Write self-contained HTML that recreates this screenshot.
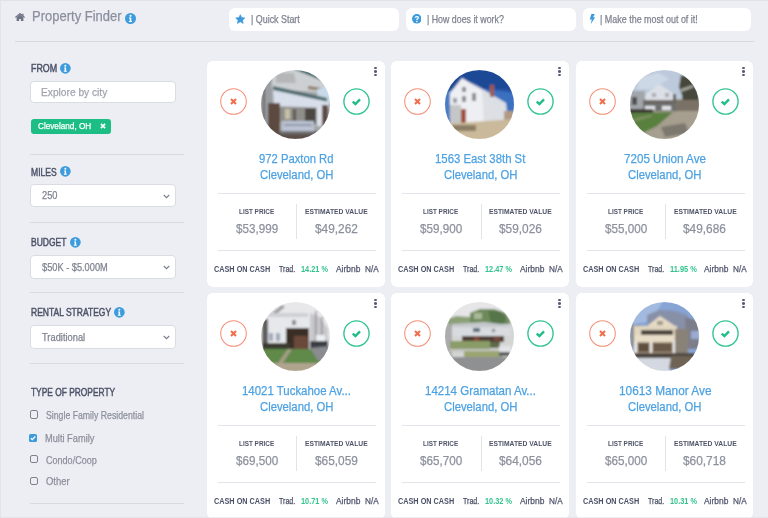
<!DOCTYPE html>
<html><head><meta charset="utf-8"><title>Property Finder</title>
<style>
*{box-sizing:border-box;margin:0;padding:0}
html,body{width:768px;height:518px;overflow:hidden}
body{background:#EDEEF3;font-family:"Liberation Sans",Arial,sans-serif;position:relative}
.a,.t{position:absolute}
.t{white-space:nowrap;line-height:1;transform-origin:0 0;-webkit-text-stroke:0.25px currentColor}
.btn{background:#fff;border-radius:6px;height:23.4px;top:7.9px}
.inp{background:#fff;border:1px solid #DADCE4;border-radius:4px}
.sdiv{left:30.2px;width:153.5px;height:1px;background:#D8DAE2}
.cb{left:29.5px;width:8.5px;height:8.5px;border:1.3px solid #7E828F;border-radius:2px}
.wrap{position:absolute;left:0;top:0;width:768px;height:518px;filter:blur(0.4px)}
.card{background:#fff;border-radius:5px;height:226px;box-shadow:0 0 0.6px rgba(160,165,185,0.5)}
</style></head>
<body>
<div class="wrap">
<div class="a" style="left:0;top:0;width:768px;height:1px;background:#E1E2E7"></div>
<div class="a" style="left:0;top:0;width:1px;height:518px;background:#E3E4E9"></div>
<svg class="a" style="left:15px;top:13px" width="10" height="8.2" viewBox="0 0 10 8.2"><path d="M5 1.6 L1.6 4.4 L1.6 8.2 L4.1 8.2 L4.1 5.9 L5.9 5.9 L5.9 8.2 L8.4 8.2 L8.4 4.4 Z" fill="#6F7486"/><path d="M0.4 4.6 L5 0.7 L9.6 4.6" stroke="#6F7486" stroke-width="1.3" fill="none"/><rect x="7.1" y="0.8" width="1.4" height="2.2" fill="#6F7486"/></svg>
<div class="t" style="left:32.00px;top:9px;font-size:14.2px;color:#8B8F9E;transform:scaleX(0.9165);">Property Finder</div>
<svg class="a" style="left:124.70px;top:12.60px" width="11" height="11" viewBox="0 0 10 10"><circle cx="5" cy="5" r="5" fill="#3D9CDD"/><circle cx="5" cy="2.6" r="0.95" fill="#fff"/><path d="M3.7 4.1 H5.7 V7.3 H6.4 V8.1 H3.6 V7.3 H4.3 V4.9 H3.7 Z" fill="#fff"/></svg>
<div class="a btn" style="left:229px;width:170px"></div>
<div class="a btn" style="left:406px;width:170px"></div>
<div class="a btn" style="left:582.5px;width:168.5px"></div>
<svg class="a" style="left:234.9px;top:13.5px" width="10.6" height="10.6" viewBox="0 0 24 24"><path d="M12 1.5 L15.1 8.2 L22.4 9 L17 14 L18.5 21.3 L12 17.6 L5.5 21.3 L7 14 L1.6 9 L8.9 8.2 Z" fill="#3C9BDC" stroke="#3C9BDC" stroke-width="1.5" stroke-linejoin="round"/></svg>
<div class="t" style="left:250.60px;top:14px;font-size:10.5px;color:#7E828F;transform:scaleX(0.8477);">| Quick Start</div>
<svg class="a" style="left:411.9px;top:14.1px" width="9.6" height="9.6" viewBox="0 0 10 10"><circle cx="5" cy="5" r="5" fill="#3C9BDC"/><path d="M3.4 3.9 C3.4 2.2 6.6 2.2 6.6 3.8 C6.6 5 5 5 5 6.2" stroke="#fff" stroke-width="1.3" fill="none"/><circle cx="5" cy="7.8" r="0.8" fill="#fff"/></svg>
<div class="t" style="left:426.80px;top:14px;font-size:10.5px;color:#7E828F;transform:scaleX(0.8400);">| How does it work?</div>
<svg class="a" style="left:588.6px;top:14.0px" width="6.4" height="10.2" viewBox="0 0 6 10"><path d="M2.2 0 L5.6 0 L3.9 3.3 L5.8 3.3 L1.6 10 L2.6 5.4 L0.5 5.4 Z" fill="#3C9BDC"/></svg>
<div class="t" style="left:600.20px;top:14px;font-size:10.5px;color:#7E828F;transform:scaleX(0.8520);">| Make the most out of it!</div>
<div class="a" style="left:15px;top:40.5px;width:739px;height:1.3px;background:#D5D7E1"></div>
<div class="t" style="left:31.00px;top:64px;font-size:10.2px;-webkit-text-stroke:0.45px currentColor;color:#4C5268;transform:scaleX(0.8722);">FROM</div>
<svg class="a" style="left:60.45px;top:63.15px" width="10.7" height="10.7" viewBox="0 0 10 10"><circle cx="5" cy="5" r="5" fill="#3D9CDD"/><circle cx="5" cy="2.6" r="0.95" fill="#fff"/><path d="M3.7 4.1 H5.7 V7.3 H6.4 V8.1 H3.6 V7.3 H4.3 V4.9 H3.7 Z" fill="#fff"/></svg>
<div class="a inp" style="left:30.2px;top:81px;width:146.3px;height:22.3px"></div>
<div class="t" style="left:41.10px;top:86px;font-size:11.6px;color:#A0A3AE;transform:scaleX(0.8790);">Explore by city</div>
<div class="a" style="left:31.4px;top:119.2px;width:79.7px;height:15.2px;background:#1DBE85;border-radius:3px"></div>
<div class="t" style="left:38.10px;top:122px;font-size:9.0px;color:#FFFFFF;transform:scaleX(0.9091);">Cleveland, OH</div>
<svg class="a" style="left:99.6px;top:123.1px" width="6" height="6" viewBox="0 0 6 6"><path d="M0.9 0.9 L5.1 5.1 M5.1 0.9 L0.9 5.1" stroke="#fff" stroke-width="1.7"/></svg>
<div class="a sdiv" style="top:154px"></div>
<div class="t" style="left:31.00px;top:168px;font-size:10.2px;-webkit-text-stroke:0.45px currentColor;color:#4C5268;transform:scaleX(0.8399);">MILES</div>
<svg class="a" style="left:59.85px;top:166.45px" width="10.7" height="10.7" viewBox="0 0 10 10"><circle cx="5" cy="5" r="5" fill="#3D9CDD"/><circle cx="5" cy="2.6" r="0.95" fill="#fff"/><path d="M3.7 4.1 H5.7 V7.3 H6.4 V8.1 H3.6 V7.3 H4.3 V4.9 H3.7 Z" fill="#fff"/></svg>
<div class="a inp" style="left:30.2px;top:183.6px;width:146.2px;height:23.8px"></div>
<div class="t" style="left:42.00px;top:190px;font-size:10.5px;color:#7F8390;transform:scaleX(0.8796);">250</div>
<svg class="a" style="left:163.30px;top:193.70px" width="7" height="5" viewBox="0 0 7 5"><path d="M0.8 1 L3.5 3.6 L6.2 1" stroke="#7C8090" stroke-width="1.25" fill="none"/></svg>
<div class="a sdiv" style="top:222px"></div>
<div class="t" style="left:31.00px;top:238px;font-size:10.2px;-webkit-text-stroke:0.45px currentColor;color:#4C5268;transform:scaleX(0.8351);">BUDGET</div>
<svg class="a" style="left:70.25px;top:236.85px" width="10.7" height="10.7" viewBox="0 0 10 10"><circle cx="5" cy="5" r="5" fill="#3D9CDD"/><circle cx="5" cy="2.6" r="0.95" fill="#fff"/><path d="M3.7 4.1 H5.7 V7.3 H6.4 V8.1 H3.6 V7.3 H4.3 V4.9 H3.7 Z" fill="#fff"/></svg>
<div class="a inp" style="left:30.2px;top:254.6px;width:146.3px;height:24px"></div>
<div class="t" style="left:41.70px;top:262px;font-size:10.5px;color:#7F8390;transform:scaleX(0.8794);">$50K - $5.000M</div>
<svg class="a" style="left:163.30px;top:264.50px" width="7" height="5" viewBox="0 0 7 5"><path d="M0.8 1 L3.5 3.6 L6.2 1" stroke="#7C8090" stroke-width="1.25" fill="none"/></svg>
<div class="a sdiv" style="top:292px"></div>
<div class="t" style="left:31.00px;top:308px;font-size:10.2px;-webkit-text-stroke:0.45px currentColor;color:#4C5268;transform:scaleX(0.8340);">RENTAL STRATEGY</div>
<svg class="a" style="left:114.45px;top:307.25px" width="10.7" height="10.7" viewBox="0 0 10 10"><circle cx="5" cy="5" r="5" fill="#3D9CDD"/><circle cx="5" cy="2.6" r="0.95" fill="#fff"/><path d="M3.7 4.1 H5.7 V7.3 H6.4 V8.1 H3.6 V7.3 H4.3 V4.9 H3.7 Z" fill="#fff"/></svg>
<div class="a inp" style="left:30.2px;top:325px;width:146.3px;height:23.7px"></div>
<div class="t" style="left:41.70px;top:332px;font-size:10.5px;color:#7F8390;transform:scaleX(0.8881);">Traditional</div>
<svg class="a" style="left:163.30px;top:334.80px" width="7" height="5" viewBox="0 0 7 5"><path d="M0.8 1 L3.5 3.6 L6.2 1" stroke="#7C8090" stroke-width="1.25" fill="none"/></svg>
<div class="a sdiv" style="top:363px"></div>
<div class="t" style="left:31.00px;top:388px;font-size:10.2px;-webkit-text-stroke:0.45px currentColor;color:#4C5268;transform:scaleX(0.8222);">TYPE OF PROPERTY</div>
<div class="a cb" style="top:410.40px"></div>
<div class="t" style="left:46.00px;top:410px;font-size:10.6px;color:#8C909B;transform:scaleX(0.8234);">Single Family Residential</div>
<svg class="a" style="left:29.1px;top:433.70px" width="8" height="8" viewBox="0 0 8 8"><rect x="0" y="0" width="8" height="8" rx="1.6" fill="#3C9BDC"/><path d="M1.8 4.2 L3.3 5.6 L6.3 2.5" stroke="#fff" stroke-width="1.3" fill="none"/></svg>
<div class="t" style="left:45.00px;top:433px;font-size:10.6px;color:#8C909B;transform:scaleX(0.8740);">Multi Family</div>
<div class="a cb" style="top:454.90px"></div>
<div class="t" style="left:46.30px;top:455px;font-size:10.6px;color:#8C909B;transform:scaleX(0.8535);">Condo/Coop</div>
<div class="a cb" style="top:476.70px"></div>
<div class="t" style="left:46.30px;top:476px;font-size:10.6px;color:#8C909B;transform:scaleX(0.8943);">Other</div>
<div class="a sdiv" style="top:503px"></div>
<div class="a card" style="left:207.0px;top:61.0px;width:177.8px"></div>
<svg class="a" style="left:220.10px;top:88.00px" width="27" height="27" viewBox="0 0 27 27"><circle cx="13.5" cy="13.5" r="12.8" fill="none" stroke="#F5917A" stroke-width="1.05"/><path d="M11 11 L16 16 M16 11 L11 16" stroke="#F26B4A" stroke-width="2.0"/></svg>
<svg class="a" style="left:343.20px;top:88.00px" width="27" height="27" viewBox="0 0 27 27"><circle cx="13.5" cy="13.5" r="12.6" fill="none" stroke="#34C596" stroke-width="1.4"/><path d="M9.7 13.6 L12.4 16 L17 11.4" stroke="#22BE88" stroke-width="2.4" fill="none"/></svg>
<div class="a" style="left:374.00px;top:66.60px;width:2.8px;height:2.6px;border-radius:50%;background:#5A5F75"></div>
<div class="a" style="left:374.00px;top:70.10px;width:2.8px;height:2.6px;border-radius:50%;background:#5A5F75"></div>
<div class="a" style="left:374.00px;top:73.60px;width:2.8px;height:2.6px;border-radius:50%;background:#5A5F75"></div>
<svg class="a" style="left:259.90px;top:68.90px" width="71" height="71" viewBox="0 0 71 71"><defs><clipPath id="c0"><circle cx="35.5" cy="35.5" r="34.6"/></clipPath><filter id="f0" x="-10%" y="-10%" width="120%" height="120%"><feGaussianBlur stdDeviation="0.9"/></filter></defs><g clip-path="url(#c0)"><g filter="url(#f0)"><rect width="71" height="71" fill="#A4A6A8"/><rect x="0" y="0" width="71" height="14" fill="#C8CCD0"/><polygon points="12,0 71,0 71,24 12,20" fill="#CDD0D3"/><polygon points="16,4 34,4 36,14 16,14" fill="#B4B6B8"/><polygon points="33,0 47,0 66,8 63,12" fill="#4E6C70"/><polygon points="48,17 62,19 62,22 48,20" fill="#8A7A62"/><polygon points="57,20 71,17 71,34 58,33" fill="#C8DAEA"/><polygon points="13,17 67,29 67,33 13,21" fill="#4A686C"/><polygon points="13,21 69,33 69,39 14,37" fill="#D8DFEA"/><rect x="0" y="10" width="12" height="60" fill="#9A9EA2"/><rect x="3" y="14" width="2" height="44" fill="#6A625C"/><rect x="8" y="34" width="12" height="34" fill="#5C4A40"/><rect x="20" y="38" width="25" height="15" fill="#8E8E8A"/><rect x="25" y="40" width="5" height="10" fill="#C8C0A8"/><rect x="33" y="40" width="3" height="13" fill="#5E5852"/><rect x="45" y="39" width="11" height="16" fill="#4C4642"/><rect x="57" y="38" width="5" height="19" fill="#DDE1E9"/><rect x="62" y="36" width="6" height="22" fill="#5E4C44"/><rect x="22" y="52" width="32" height="10" fill="#BCC4D4"/><rect x="24" y="55" width="28" height="2" fill="#9098A8"/><rect x="0" y="62" width="71" height="9" fill="#5C5048"/><rect x="20" y="62" width="35" height="3" fill="#707070"/></g></g></svg>
<div class="t" style="left:258.95px;top:152px;font-size:13.1px;color:#4DA2E2;transform:scaleX(0.8597);">972 Paxton Rd</div>
<div class="t" style="left:259.50px;top:168px;font-size:13.1px;color:#4DA2E2;transform:scaleX(0.8617);">Cleveland, OH</div>
<div class="a" style="left:217.50px;top:193.00px;width:158px;height:1px;background:#E2E4EA"></div>
<div class="t" style="left:238.90px;top:208px;font-size:7.7px;font-weight:bold;-webkit-text-stroke:0;color:#4F5468;transform:scaleX(0.8312);">LIST PRICE</div>
<div class="t" style="left:305.00px;top:208px;font-size:7.7px;font-weight:bold;-webkit-text-stroke:0;color:#4F5468;transform:scaleX(0.8772);">ESTIMATED VALUE</div>
<div class="t" style="left:235.90px;top:223px;font-size:12.4px;color:#8D919D;transform:scaleX(0.9414);">$53,999</div>
<div class="t" style="left:314.85px;top:223px;font-size:12.4px;color:#8D919D;transform:scaleX(0.9570);">$49,262</div>
<div class="a" style="left:296.30px;top:203.60px;width:1px;height:35.6px;background:#E2E4EA"></div>
<div class="a" style="left:217.50px;top:250.00px;width:158px;height:1px;background:#E2E4EA"></div>
<div class="t" style="left:214.10px;top:265px;font-size:8.7px;font-weight:bold;-webkit-text-stroke:0;color:#4B5066;transform:scaleX(0.8380);">CASH ON CASH</div>
<div class="t" style="left:279.10px;top:265px;font-size:8.7px;color:#4B5066;transform:scaleX(0.8105);">Trad.</div>
<div class="t" style="left:301.00px;top:265px;font-size:8.4px;font-weight:bold;-webkit-text-stroke:0;color:#32C38F;transform:scaleX(0.8758);">14.21 %</div>
<div class="t" style="left:335.80px;top:265px;font-size:8.7px;color:#50556C;transform:scaleX(0.9704);">Airbnb</div>
<div class="t" style="left:364.90px;top:265px;font-size:8.7px;color:#50556C;transform:scaleX(0.9444);">N/A</div>
<div class="a card" style="left:391.3px;top:61.0px;width:177.6px"></div>
<svg class="a" style="left:404.40px;top:88.00px" width="27" height="27" viewBox="0 0 27 27"><circle cx="13.5" cy="13.5" r="12.8" fill="none" stroke="#F5917A" stroke-width="1.05"/><path d="M11 11 L16 16 M16 11 L11 16" stroke="#F26B4A" stroke-width="2.0"/></svg>
<svg class="a" style="left:527.30px;top:88.00px" width="27" height="27" viewBox="0 0 27 27"><circle cx="13.5" cy="13.5" r="12.6" fill="none" stroke="#34C596" stroke-width="1.4"/><path d="M9.7 13.6 L12.4 16 L17 11.4" stroke="#22BE88" stroke-width="2.4" fill="none"/></svg>
<div class="a" style="left:558.10px;top:66.60px;width:2.8px;height:2.6px;border-radius:50%;background:#5A5F75"></div>
<div class="a" style="left:558.10px;top:70.10px;width:2.8px;height:2.6px;border-radius:50%;background:#5A5F75"></div>
<div class="a" style="left:558.10px;top:73.60px;width:2.8px;height:2.6px;border-radius:50%;background:#5A5F75"></div>
<svg class="a" style="left:444.10px;top:68.90px" width="71" height="71" viewBox="0 0 71 71"><defs><clipPath id="c1"><circle cx="35.5" cy="35.5" r="34.6"/></clipPath><filter id="f1" x="-10%" y="-10%" width="120%" height="120%"><feGaussianBlur stdDeviation="0.9"/></filter></defs><g clip-path="url(#c1)"><g filter="url(#f1)"><rect width="71" height="71" fill="#2A55A6"/><rect x="0" y="0" width="71" height="20" fill="#1E4896"/><polygon points="40,20 71,24 71,50 60,50" fill="#3A70C0"/><rect x="0" y="22" width="8" height="28" fill="#4A7CC4"/><polygon points="6,24 18,9 40,22 40,57 6,55" fill="#EEEFF2"/><polygon points="38,21 25,12 62,34 64,52 40,57" fill="#DCDFE4"/><rect x="46" y="16" width="4" height="12" fill="#A05A3C"/><rect x="18" y="18" width="4" height="5" fill="#8A8E94"/><rect x="18" y="27" width="4" height="6" fill="#8A8E94"/><rect x="28" y="24" width="4" height="8" fill="#8A8E94"/><rect x="9" y="29" width="4" height="5" fill="#9A9EA4"/><rect x="6" y="36" width="11" height="19" fill="#C4C6C8"/><rect x="17" y="40" width="5" height="16" fill="#A0503A"/><rect x="60" y="42" width="11" height="13" fill="#B09A84"/><polygon points="0,55 71,50 71,71 0,71" fill="#CAB99A"/><rect x="8" y="56" width="24" height="6" fill="#8C7E66"/></g></g></svg>
<div class="t" style="left:435.20px;top:152px;font-size:13.1px;color:#4DA2E2;transform:scaleX(0.8680);">1563 East 38th St</div>
<div class="t" style="left:443.70px;top:168px;font-size:13.1px;color:#4DA2E2;transform:scaleX(0.8617);">Cleveland, OH</div>
<div class="a" style="left:401.80px;top:193.00px;width:158px;height:1px;background:#E2E4EA"></div>
<div class="t" style="left:423.14px;top:208px;font-size:7.7px;font-weight:bold;-webkit-text-stroke:0;color:#4F5468;transform:scaleX(0.8312);">LIST PRICE</div>
<div class="t" style="left:489.15px;top:208px;font-size:7.7px;font-weight:bold;-webkit-text-stroke:0;color:#4F5468;transform:scaleX(0.8772);">ESTIMATED VALUE</div>
<div class="t" style="left:420.14px;top:223px;font-size:12.4px;color:#8D919D;transform:scaleX(0.9414);">$59,900</div>
<div class="t" style="left:499.00px;top:223px;font-size:12.4px;color:#8D919D;transform:scaleX(0.9570);">$59,026</div>
<div class="a" style="left:480.50px;top:203.60px;width:1px;height:35.6px;background:#E2E4EA"></div>
<div class="a" style="left:401.79px;top:250.00px;width:158px;height:1px;background:#E2E4EA"></div>
<div class="t" style="left:398.39px;top:265px;font-size:8.7px;font-weight:bold;-webkit-text-stroke:0;color:#4B5066;transform:scaleX(0.8380);">CASH ON CASH</div>
<div class="t" style="left:463.32px;top:265px;font-size:8.7px;color:#4B5066;transform:scaleX(0.8105);">Trad.</div>
<div class="t" style="left:485.19px;top:265px;font-size:8.4px;font-weight:bold;-webkit-text-stroke:0;color:#32C38F;transform:scaleX(0.8758);">12.47 %</div>
<div class="t" style="left:519.96px;top:265px;font-size:8.7px;color:#50556C;transform:scaleX(0.9704);">Airbnb</div>
<div class="t" style="left:549.02px;top:265px;font-size:8.7px;color:#50556C;transform:scaleX(0.9444);">N/A</div>
<div class="a card" style="left:576.3px;top:61.0px;width:176.8px"></div>
<svg class="a" style="left:589.40px;top:88.00px" width="27" height="27" viewBox="0 0 27 27"><circle cx="13.5" cy="13.5" r="12.8" fill="none" stroke="#F5917A" stroke-width="1.05"/><path d="M11 11 L16 16 M16 11 L11 16" stroke="#F26B4A" stroke-width="2.0"/></svg>
<svg class="a" style="left:711.50px;top:88.00px" width="27" height="27" viewBox="0 0 27 27"><circle cx="13.5" cy="13.5" r="12.6" fill="none" stroke="#34C596" stroke-width="1.4"/><path d="M9.7 13.6 L12.4 16 L17 11.4" stroke="#22BE88" stroke-width="2.4" fill="none"/></svg>
<div class="a" style="left:742.30px;top:66.60px;width:2.8px;height:2.6px;border-radius:50%;background:#5A5F75"></div>
<div class="a" style="left:742.30px;top:70.10px;width:2.8px;height:2.6px;border-radius:50%;background:#5A5F75"></div>
<div class="a" style="left:742.30px;top:73.60px;width:2.8px;height:2.6px;border-radius:50%;background:#5A5F75"></div>
<svg class="a" style="left:628.70px;top:68.90px" width="71" height="71" viewBox="0 0 71 71"><defs><clipPath id="c2"><circle cx="35.5" cy="35.5" r="34.6"/></clipPath><filter id="f2" x="-10%" y="-10%" width="120%" height="120%"><feGaussianBlur stdDeviation="0.9"/></filter></defs><g clip-path="url(#c2)"><g filter="url(#f2)"><rect width="71" height="71" fill="#A69E8E"/><rect x="0" y="0" width="71" height="30" fill="#BCCADC"/><polygon points="10,8 30,4 40,10 22,20 8,20" fill="#CCD8E6"/><polygon points="52,6 60,8 66,14 70,26 70,40 54,40 53,26 50,18" fill="#46463A"/><polygon points="52,20 64,16 65,18 52,23" fill="#A8AAA4"/><rect x="46" y="31" width="25" height="12" fill="#7A7266"/><rect x="0" y="22" width="16" height="20" fill="#A2A6AA"/><rect x="3" y="28" width="5" height="8" fill="#4E4E4E"/><polygon points="17,25 30,15 45,25 46,33 16,33" fill="#DCE0E6"/><rect x="23" y="24" width="4" height="4" fill="#A8ACB2"/><rect x="36" y="24" width="4" height="4" fill="#A8ACB2"/><rect x="44" y="25" width="3" height="7" fill="#5A5A58"/><rect x="14" y="31" width="33" height="3" fill="#6A6460"/><rect x="14" y="34" width="33" height="8" fill="#6E6E6E"/><rect x="16" y="37" width="10" height="4" fill="#E2E4E8"/><rect x="33" y="37" width="9" height="4" fill="#E2E4E8"/><rect x="0" y="40" width="24" height="6" fill="#3C3632"/><polygon points="48,42 71,42 71,71 20,71 20,64 30,56" fill="#A69E8E"/><polygon points="0,44 44,43 28,57 14,64 0,62" fill="#5A8040"/><polygon points="5,50 22,46 24,47 6,52" fill="#8A9468"/><polygon points="32,58 56,54 60,64 36,68" fill="#7C7870"/></g></g></svg>
<div class="t" style="left:624.00px;top:152px;font-size:13.1px;color:#4DA2E2;transform:scaleX(0.8888);">7205 Union Ave</div>
<div class="t" style="left:628.30px;top:168px;font-size:13.1px;color:#4DA2E2;transform:scaleX(0.8617);">Cleveland, OH</div>
<div class="a" style="left:586.80px;top:193.00px;width:158px;height:1px;background:#E2E4EA"></div>
<div class="t" style="left:607.92px;top:208px;font-size:7.7px;font-weight:bold;-webkit-text-stroke:0;color:#4F5468;transform:scaleX(0.8312);">LIST PRICE</div>
<div class="t" style="left:673.57px;top:208px;font-size:7.7px;font-weight:bold;-webkit-text-stroke:0;color:#4F5468;transform:scaleX(0.8772);">ESTIMATED VALUE</div>
<div class="t" style="left:604.92px;top:223px;font-size:12.4px;color:#8D919D;transform:scaleX(0.9414);">$55,000</div>
<div class="t" style="left:683.42px;top:223px;font-size:12.4px;color:#8D919D;transform:scaleX(0.9570);">$49,686</div>
<div class="a" style="left:665.10px;top:203.60px;width:1px;height:35.6px;background:#E2E4EA"></div>
<div class="a" style="left:586.74px;top:250.00px;width:158px;height:1px;background:#E2E4EA"></div>
<div class="t" style="left:583.36px;top:265px;font-size:8.7px;font-weight:bold;-webkit-text-stroke:0;color:#4B5066;transform:scaleX(0.8380);">CASH ON CASH</div>
<div class="t" style="left:647.99px;top:265px;font-size:8.7px;color:#4B5066;transform:scaleX(0.8105);">Trad.</div>
<div class="t" style="left:669.77px;top:265px;font-size:8.4px;font-weight:bold;-webkit-text-stroke:0;color:#32C38F;transform:scaleX(0.8892);">11.95 %</div>
<div class="t" style="left:704.38px;top:265px;font-size:8.7px;color:#50556C;transform:scaleX(0.9704);">Airbnb</div>
<div class="t" style="left:733.31px;top:265px;font-size:8.7px;color:#50556C;transform:scaleX(0.9444);">N/A</div>
<div class="a card" style="left:207.0px;top:293.0px;width:177.8px"></div>
<svg class="a" style="left:220.10px;top:320.00px" width="27" height="27" viewBox="0 0 27 27"><circle cx="13.5" cy="13.5" r="12.8" fill="none" stroke="#F5917A" stroke-width="1.05"/><path d="M11 11 L16 16 M16 11 L11 16" stroke="#F26B4A" stroke-width="2.0"/></svg>
<svg class="a" style="left:343.20px;top:320.00px" width="27" height="27" viewBox="0 0 27 27"><circle cx="13.5" cy="13.5" r="12.6" fill="none" stroke="#34C596" stroke-width="1.4"/><path d="M9.7 13.6 L12.4 16 L17 11.4" stroke="#22BE88" stroke-width="2.4" fill="none"/></svg>
<div class="a" style="left:374.00px;top:298.60px;width:2.8px;height:2.6px;border-radius:50%;background:#5A5F75"></div>
<div class="a" style="left:374.00px;top:302.10px;width:2.8px;height:2.6px;border-radius:50%;background:#5A5F75"></div>
<div class="a" style="left:374.00px;top:305.60px;width:2.8px;height:2.6px;border-radius:50%;background:#5A5F75"></div>
<svg class="a" style="left:259.90px;top:300.90px" width="71" height="71" viewBox="0 0 71 71"><defs><clipPath id="c3"><circle cx="35.5" cy="35.5" r="34.6"/></clipPath><filter id="f3" x="-10%" y="-10%" width="120%" height="120%"><feGaussianBlur stdDeviation="0.9"/></filter></defs><g clip-path="url(#c3)"><g filter="url(#f3)"><rect width="71" height="71" fill="#E4E4E6"/><rect x="0" y="0" width="71" height="36" fill="#E8E8EA"/><polygon points="8,28 12,12 22,4 25,6 15,14 12,30" fill="#9A9A9C"/><polygon points="50,12 60,16 68,28 68,42 50,42" fill="#C8C8CC"/><rect x="55" y="10" width="1.5" height="30" fill="#8E8E92"/><rect x="61" y="16" width="1.5" height="24" fill="#8E8E92"/><rect x="6" y="14" width="43" height="30" fill="#E6E8EC"/><rect x="8" y="12" width="40" height="4" fill="#CDD0D4"/><rect x="2" y="18" width="6" height="28" fill="#5E5E5C"/><rect x="9" y="32" width="4" height="8" fill="#A0A8B8"/><rect x="16" y="32" width="4" height="8" fill="#A0A8B8"/><rect x="32" y="19" width="4" height="5" fill="#8A8E96"/><rect x="26" y="27" width="23" height="21" fill="#3A2E28"/><rect x="34" y="35" width="14" height="13" fill="#6A4A3A"/><rect x="56" y="34" width="9" height="6" fill="#EEEFF2"/><rect x="50" y="40" width="18" height="8" fill="#3A3E44"/><rect x="2" y="42" width="28" height="6" fill="#3A3A30"/><rect x="0" y="48" width="71" height="16" fill="#5E8A48"/><polygon points="50,47 71,45 71,60 58,60" fill="#8A8C90"/><polygon points="28,48 32,48 20,66 15,66" fill="#A89C88"/><rect x="0" y="62" width="71" height="9" fill="#B0A48E"/></g></g></svg>
<div class="t" style="left:241.70px;top:384px;font-size:13.1px;color:#4DA2E2;transform:scaleX(0.8733);">14021 Tuckahoe Av...</div>
<div class="t" style="left:259.50px;top:400px;font-size:13.1px;color:#4DA2E2;transform:scaleX(0.8617);">Cleveland, OH</div>
<div class="a" style="left:217.50px;top:425.00px;width:158px;height:1px;background:#E2E4EA"></div>
<div class="t" style="left:238.90px;top:440px;font-size:7.7px;font-weight:bold;-webkit-text-stroke:0;color:#4F5468;transform:scaleX(0.8312);">LIST PRICE</div>
<div class="t" style="left:305.00px;top:440px;font-size:7.7px;font-weight:bold;-webkit-text-stroke:0;color:#4F5468;transform:scaleX(0.8772);">ESTIMATED VALUE</div>
<div class="t" style="left:235.90px;top:455px;font-size:12.4px;color:#8D919D;transform:scaleX(0.9414);">$69,500</div>
<div class="t" style="left:314.85px;top:455px;font-size:12.4px;color:#8D919D;transform:scaleX(0.9570);">$65,059</div>
<div class="a" style="left:296.30px;top:435.60px;width:1px;height:35.6px;background:#E2E4EA"></div>
<div class="a" style="left:217.50px;top:482.00px;width:158px;height:1px;background:#E2E4EA"></div>
<div class="t" style="left:214.10px;top:497px;font-size:8.7px;font-weight:bold;-webkit-text-stroke:0;color:#4B5066;transform:scaleX(0.8380);">CASH ON CASH</div>
<div class="t" style="left:279.10px;top:497px;font-size:8.7px;color:#4B5066;transform:scaleX(0.8105);">Trad.</div>
<div class="t" style="left:301.00px;top:497px;font-size:8.4px;font-weight:bold;-webkit-text-stroke:0;color:#32C38F;transform:scaleX(0.8758);">10.71 %</div>
<div class="t" style="left:335.80px;top:497px;font-size:8.7px;color:#50556C;transform:scaleX(0.9704);">Airbnb</div>
<div class="t" style="left:364.90px;top:497px;font-size:8.7px;color:#50556C;transform:scaleX(0.9444);">N/A</div>
<div class="a card" style="left:391.3px;top:293.0px;width:177.6px"></div>
<svg class="a" style="left:404.40px;top:320.00px" width="27" height="27" viewBox="0 0 27 27"><circle cx="13.5" cy="13.5" r="12.8" fill="none" stroke="#F5917A" stroke-width="1.05"/><path d="M11 11 L16 16 M16 11 L11 16" stroke="#F26B4A" stroke-width="2.0"/></svg>
<svg class="a" style="left:527.30px;top:320.00px" width="27" height="27" viewBox="0 0 27 27"><circle cx="13.5" cy="13.5" r="12.6" fill="none" stroke="#34C596" stroke-width="1.4"/><path d="M9.7 13.6 L12.4 16 L17 11.4" stroke="#22BE88" stroke-width="2.4" fill="none"/></svg>
<div class="a" style="left:558.10px;top:298.60px;width:2.8px;height:2.6px;border-radius:50%;background:#5A5F75"></div>
<div class="a" style="left:558.10px;top:302.10px;width:2.8px;height:2.6px;border-radius:50%;background:#5A5F75"></div>
<div class="a" style="left:558.10px;top:305.60px;width:2.8px;height:2.6px;border-radius:50%;background:#5A5F75"></div>
<svg class="a" style="left:444.10px;top:300.90px" width="71" height="71" viewBox="0 0 71 71"><defs><clipPath id="c4"><circle cx="35.5" cy="35.5" r="34.6"/></clipPath><filter id="f4" x="-10%" y="-10%" width="120%" height="120%"><feGaussianBlur stdDeviation="0.9"/></filter></defs><g clip-path="url(#c4)"><g filter="url(#f4)"><rect width="71" height="71" fill="#D4D6D4"/><rect x="0" y="0" width="71" height="16" fill="#E6E6E8"/><polygon points="4,18 12,15 26,16 28,24 4,24" fill="#8CA078"/><polygon points="26,12 36,8 50,8 62,12 66,20 66,26 26,26" fill="#6E8A5A"/><polygon points="44,10 56,10 62,16 60,24 48,24" fill="#56744A"/><rect x="30" y="12" width="8" height="6" fill="#A8B898"/><rect x="0" y="24" width="8" height="34" fill="#ACACAC"/><rect x="8" y="23" width="58" height="12" fill="#D8DCE0"/><polygon points="8,23 40,21 66,24 66,26 8,26" fill="#C4C8CC"/><rect x="29" y="27" width="7" height="4" fill="#5A6A7A"/><rect x="48" y="28" width="3" height="3" fill="#7A8694"/><rect x="18" y="35" width="42" height="6" fill="#4E3E36"/><rect x="30" y="36" width="5" height="4" fill="#8A4A3A"/><rect x="50" y="36" width="6" height="4" fill="#7A4A3A"/><rect x="6" y="40" width="40" height="8" fill="#8A9C68"/><rect x="46" y="41" width="10" height="6" fill="#5E6A48"/><rect x="6" y="48" width="52" height="3" fill="#C6C6C2"/><rect x="20" y="50" width="38" height="6" fill="#9AA672"/><rect x="0" y="56" width="71" height="15" fill="#8E9092"/><rect x="55" y="45" width="12" height="6" fill="#E2E4E8"/><rect x="55" y="51" width="11" height="4" fill="#5A5A5A"/></g></g></svg>
<div class="t" style="left:424.90px;top:384px;font-size:13.1px;color:#4DA2E2;transform:scaleX(0.8794);">14214 Gramatan Av...</div>
<div class="t" style="left:443.70px;top:400px;font-size:13.1px;color:#4DA2E2;transform:scaleX(0.8617);">Cleveland, OH</div>
<div class="a" style="left:401.80px;top:425.00px;width:158px;height:1px;background:#E2E4EA"></div>
<div class="t" style="left:423.14px;top:440px;font-size:7.7px;font-weight:bold;-webkit-text-stroke:0;color:#4F5468;transform:scaleX(0.8312);">LIST PRICE</div>
<div class="t" style="left:489.15px;top:440px;font-size:7.7px;font-weight:bold;-webkit-text-stroke:0;color:#4F5468;transform:scaleX(0.8772);">ESTIMATED VALUE</div>
<div class="t" style="left:420.14px;top:455px;font-size:12.4px;color:#8D919D;transform:scaleX(0.9414);">$65,700</div>
<div class="t" style="left:499.00px;top:455px;font-size:12.4px;color:#8D919D;transform:scaleX(0.9570);">$64,056</div>
<div class="a" style="left:480.50px;top:435.60px;width:1px;height:35.6px;background:#E2E4EA"></div>
<div class="a" style="left:401.79px;top:482.00px;width:158px;height:1px;background:#E2E4EA"></div>
<div class="t" style="left:398.39px;top:497px;font-size:8.7px;font-weight:bold;-webkit-text-stroke:0;color:#4B5066;transform:scaleX(0.8380);">CASH ON CASH</div>
<div class="t" style="left:463.32px;top:497px;font-size:8.7px;color:#4B5066;transform:scaleX(0.8105);">Trad.</div>
<div class="t" style="left:485.19px;top:497px;font-size:8.4px;font-weight:bold;-webkit-text-stroke:0;color:#32C38F;transform:scaleX(0.8758);">10.32 %</div>
<div class="t" style="left:519.96px;top:497px;font-size:8.7px;color:#50556C;transform:scaleX(0.9704);">Airbnb</div>
<div class="t" style="left:549.02px;top:497px;font-size:8.7px;color:#50556C;transform:scaleX(0.9444);">N/A</div>
<div class="a card" style="left:576.3px;top:293.0px;width:176.8px"></div>
<svg class="a" style="left:589.40px;top:320.00px" width="27" height="27" viewBox="0 0 27 27"><circle cx="13.5" cy="13.5" r="12.8" fill="none" stroke="#F5917A" stroke-width="1.05"/><path d="M11 11 L16 16 M16 11 L11 16" stroke="#F26B4A" stroke-width="2.0"/></svg>
<svg class="a" style="left:711.50px;top:320.00px" width="27" height="27" viewBox="0 0 27 27"><circle cx="13.5" cy="13.5" r="12.6" fill="none" stroke="#34C596" stroke-width="1.4"/><path d="M9.7 13.6 L12.4 16 L17 11.4" stroke="#22BE88" stroke-width="2.4" fill="none"/></svg>
<div class="a" style="left:742.30px;top:298.60px;width:2.8px;height:2.6px;border-radius:50%;background:#5A5F75"></div>
<div class="a" style="left:742.30px;top:302.10px;width:2.8px;height:2.6px;border-radius:50%;background:#5A5F75"></div>
<div class="a" style="left:742.30px;top:305.60px;width:2.8px;height:2.6px;border-radius:50%;background:#5A5F75"></div>
<svg class="a" style="left:628.70px;top:300.90px" width="71" height="71" viewBox="0 0 71 71"><defs><clipPath id="c5"><circle cx="35.5" cy="35.5" r="34.6"/></clipPath><filter id="f5" x="-10%" y="-10%" width="120%" height="120%"><feGaussianBlur stdDeviation="0.9"/></filter></defs><g clip-path="url(#c5)"><g filter="url(#f5)"><rect width="71" height="71" fill="#8AA8D4"/><rect x="0" y="0" width="71" height="30" fill="#86A4D4"/><polygon points="0,0 34,0 22,20 0,24" fill="#A2BAE0"/><polygon points="18,14 30,9 46,10 58,14 62,30 18,30" fill="#8890A8"/><polygon points="56,16 71,20 71,48 58,48" fill="#7C7E8A"/><rect x="62" y="30" width="9" height="8" fill="#9AAAD0"/><rect x="2" y="24" width="10" height="22" fill="#8E8C8A"/><polygon points="18,25 31,15 46,25 46,30 18,30" fill="#E6DCC6"/><rect x="28" y="20" width="6" height="4" fill="#A0988A"/><rect x="5" y="25" width="43" height="30" fill="#E0D6C0"/><rect x="12" y="29" width="32" height="5" fill="#4E463E"/><rect x="6" y="34" width="42" height="6" fill="#E8DEC8"/><rect x="8" y="41" width="40" height="12" fill="#B0A088"/><rect x="9" y="42" width="11" height="9" fill="#5E5040"/><rect x="24" y="42" width="19" height="9" fill="#6A5A4A"/><rect x="6" y="40" width="2" height="14" fill="#EEEEF0"/><rect x="21" y="40" width="2" height="13" fill="#EEEEF0"/><rect x="44" y="40" width="2" height="13" fill="#EEEEF0"/><rect x="46" y="28" width="13" height="26" fill="#8A8276"/><rect x="0" y="52" width="71" height="5" fill="#4E4440"/><polygon points="8,57 44,57 40,71 10,71" fill="#D4D8E0"/><polygon points="42,55 68,55 66,68 40,68" fill="#6E6454"/></g></g></svg>
<div class="t" style="left:618.75px;top:384px;font-size:13.1px;color:#4DA2E2;transform:scaleX(0.9029);">10613 Manor Ave</div>
<div class="t" style="left:628.30px;top:400px;font-size:13.1px;color:#4DA2E2;transform:scaleX(0.8617);">Cleveland, OH</div>
<div class="a" style="left:586.80px;top:425.00px;width:158px;height:1px;background:#E2E4EA"></div>
<div class="t" style="left:607.92px;top:440px;font-size:7.7px;font-weight:bold;-webkit-text-stroke:0;color:#4F5468;transform:scaleX(0.8312);">LIST PRICE</div>
<div class="t" style="left:673.57px;top:440px;font-size:7.7px;font-weight:bold;-webkit-text-stroke:0;color:#4F5468;transform:scaleX(0.8772);">ESTIMATED VALUE</div>
<div class="t" style="left:604.92px;top:455px;font-size:12.4px;color:#8D919D;transform:scaleX(0.9414);">$65,000</div>
<div class="t" style="left:683.42px;top:455px;font-size:12.4px;color:#8D919D;transform:scaleX(0.9570);">$60,718</div>
<div class="a" style="left:665.10px;top:435.60px;width:1px;height:35.6px;background:#E2E4EA"></div>
<div class="a" style="left:586.74px;top:482.00px;width:158px;height:1px;background:#E2E4EA"></div>
<div class="t" style="left:583.36px;top:497px;font-size:8.7px;font-weight:bold;-webkit-text-stroke:0;color:#4B5066;transform:scaleX(0.8380);">CASH ON CASH</div>
<div class="t" style="left:647.99px;top:497px;font-size:8.7px;color:#4B5066;transform:scaleX(0.8105);">Trad.</div>
<div class="t" style="left:669.77px;top:497px;font-size:8.4px;font-weight:bold;-webkit-text-stroke:0;color:#32C38F;transform:scaleX(0.8758);">10.31 %</div>
<div class="t" style="left:704.38px;top:497px;font-size:8.7px;color:#50556C;transform:scaleX(0.9704);">Airbnb</div>
<div class="t" style="left:733.31px;top:497px;font-size:8.7px;color:#50556C;transform:scaleX(0.9444);">N/A</div>
<div class="a" style="left:0;top:517px;width:768px;height:1px;background:rgba(215,217,225,0.45)"></div>
</div>
</body></html>
